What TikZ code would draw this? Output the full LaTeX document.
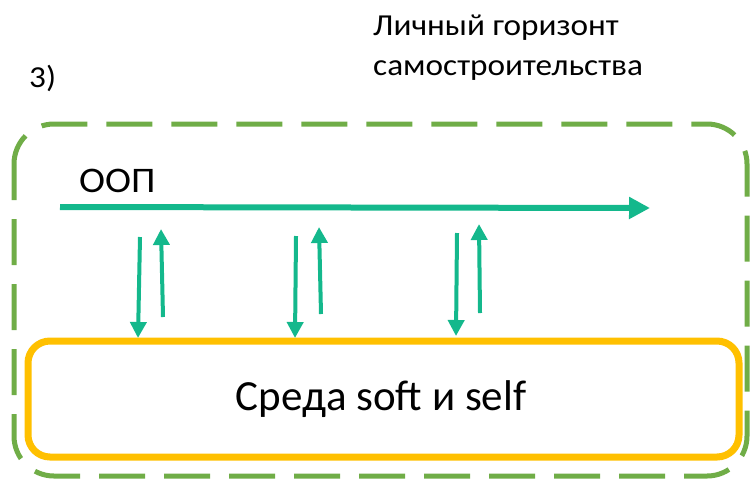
\documentclass[tikz,border=0pt]{standalone}
\usepackage{fontspec}
\setmainfont{Carlito}
\newfontfamily\widefont{Carlito}[FakeStretch=1.09]
\usetikzlibrary{arrows.meta}
\definecolor{dgreen}{RGB}{112,173,71}
\definecolor{orng}{RGB}{255,192,0}
\definecolor{teal2}{RGB}{20,184,140}
\tikzset{
  outerbox/.style={draw=dgreen, line width=5pt, dash pattern=on 46pt off 19pt, dash phase=10pt, rounded corners=40pt},
  envbox/.style={draw=orng, line width=7pt, rounded corners=22pt, minimum width=711pt, minimum height=116pt, inner sep=0pt},
  mainarrow/.style={draw=teal2, line width=6pt, -{Triangle[length=21pt,width=21pt]}},
  smallarrow/.style={draw=teal2, line width=4pt, -{Triangle[length=16pt,width=16pt]}},
  lbl/.style={inner sep=0pt, anchor=base west},
  titlefont/.style={font=\widefont\fontsize{30.5}{36}\selectfont},
}
\begin{document}
\begin{tikzpicture}[x=1pt,y=-1pt]
\useasboundingbox (0,0) rectangle (751,480);
\draw[outerbox] (14,124) rectangle (747,476);
\node[envbox] (env) at (383.5,399) {};
\node[inner sep=0pt, anchor=base, font=\fontsize{43}{50}\selectfont] (envtext) at (381,410) {Среда soft и self};
\node[lbl, titlefont] (title1) at (373,35) {Личный горизонт};
\node[lbl, titlefont] (title2) at (373,75) {самостроительства};
\node[lbl, titlefont] (num) at (29,87) {3)};
\node[lbl, font=\widefont\fontsize{36}{42}\selectfont] (oop) at (79,192) {ООП};
\coordinate (oopS) at (60,207);
\coordinate (oopE) at (650,208);
\draw[mainarrow] (oopS) -- (oopE);
\coordinate (d1s) at (140,237); \coordinate (d1e) at (138,338);
\coordinate (u1s) at (163,317); \coordinate (u1e) at (161,229);
\coordinate (d2s) at (296,236); \coordinate (d2e) at (295,338);
\coordinate (u2s) at (321,314); \coordinate (u2e) at (319,227);
\coordinate (d3s) at (457,233); \coordinate (d3e) at (456,336);
\coordinate (u3s) at (480,313); \coordinate (u3e) at (479,224);
\draw[smallarrow] (d1s) -- (d1e);
\draw[smallarrow] (u1s) -- (u1e);
\draw[smallarrow] (d2s) -- (d2e);
\draw[smallarrow] (u2s) -- (u2e);
\draw[smallarrow] (d3s) -- (d3e);
\draw[smallarrow] (u3s) -- (u3e);
\end{tikzpicture}
\end{document}
